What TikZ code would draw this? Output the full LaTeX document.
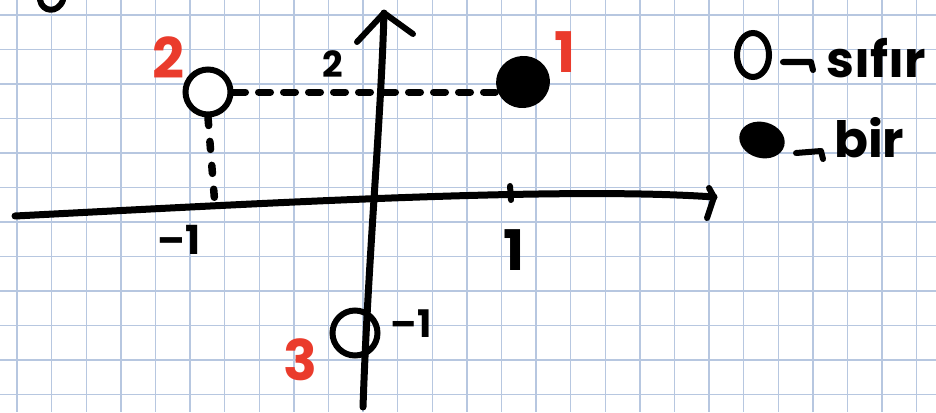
\documentclass[tikz,border=0pt]{standalone}
\usepackage{fontspec}
\newfontfamily\hand{Poppins}
\usetikzlibrary{shapes.geometric}
\definecolor{gridblue}{HTML}{B7C7E0}
\definecolor{penred}{HTML}{EA3B2C}
\begin{document}
\begin{tikzpicture}[x=1pt,y=-1pt,
  gridline/.style={gridblue,line width=1.4pt},
  pen/.style={black,line width=6pt,line cap=round,line join=round},
  dashline/.style={black,line width=7pt,line cap=round,dash pattern=on 12pt off 13pt},
  dotline/.style={black,line width=7.5pt,line cap=round,dash pattern=on 8pt off 16pt},
  opencirc/.style={circle,draw=black,line width=6pt,fill=white,minimum size=45pt,inner sep=0pt},
  fulldot/.style={ellipse,fill=black,minimum width=54pt,minimum height=52pt,inner sep=0pt},
  redlab/.style={text=penred,font=\hand\bfseries\fontsize{56}{56}\selectfont,inner sep=0pt},
  blklab/.style={text=black,font=\hand\bfseries\fontsize{#1}{#1}\selectfont,inner sep=0pt},
  blklab/.default=50
]
\useasboundingbox (0,0) rectangle (936,412);
\fill[white] (0,0) rectangle (936,412);
% grid paper
\foreach \i in {0,...,26} \draw[gridline] ({17+34.6*\i},0) -- ({17+34.6*\i},412);
\foreach \j in {0,...,11} \draw[gridline] (0,{15+34.5*\j}) -- (936,{15+34.5*\j});
% partial glyph at top-left edge
\draw[pen] (40,0) .. controls (42,12) and (58,14) .. (63,0);
% axes
\coordinate (xl) at (15,216);
\coordinate (xr) at (714,197);
\coordinate (yt) at (384,13);
\coordinate (yb) at (363,407);
\coordinate (tk1a) at (510,186);
\coordinate (tk1b) at (511,200);
\coordinate (foot) at (215,206);
\draw[pen,line width=7pt] (xl) .. controls (250,204) and (560,186) .. (xr);
\draw[pen] (xr) -- ++(-5,-9);
\draw[pen] (xr) -- ++(-7,21);
\draw[pen,line width=7pt] (yt) .. controls (381,120) and (368,260) .. (yb);
\draw[pen] (yt) -- (357,42);
\draw[pen] (yt) -- (413,34);
\draw[pen] (tk1a) -- (tk1b);
% points
\node[opencirc] (p2) at (208,92) {};
\node[fulldot,rotate=15] (p1) at (523,82) {};
\node[opencirc,fill=none] (p3) at (355,333) {};
% guide lines
\draw[dashline] (p2.east) -- (p1.west |- p2.east);
\draw[dotline] (p2.south) -- (foot);
% labels
\node[redlab] (l2) at (168,58) {2};
\node[redlab] (l1) at (565,52) {1};
\node[redlab] (l3) at (300,360) {3};
\node[blklab=36] (t2) at (333,64) {2};
\node[blklab=40] (tm1) at (179,240) {–1};
\node[blklab=56] (t1) at (514,250) {1};
\node[blklab=38] (tm1b) at (411,324) {–1};
% legend
\node[ellipse,draw=black,line width=6pt,minimum width=32pt,minimum height=44pt,inner sep=0pt] (lg0) at (753,55) {};
\coordinate (a0s) at (783,62);
\coordinate (a0e) at (811,62);
\draw[pen] (a0s) -- (a0e) -- ++(2,8);
\node[blklab=50,anchor=west] (w0) at (826,58) {sıfır};
\node[ellipse,fill=black,rotate=-15,minimum width=46pt,minimum height=36pt,inner sep=0pt] (lg1) at (762,140) {};
\coordinate (a1s) at (796,153);
\coordinate (a1e) at (821,151);
\draw[pen] (a1s) -- (a1e) -- ++(2,8);
\node[blklab=50,anchor=west] (w1) at (834,138) {bir};
\end{tikzpicture}
\end{document}
